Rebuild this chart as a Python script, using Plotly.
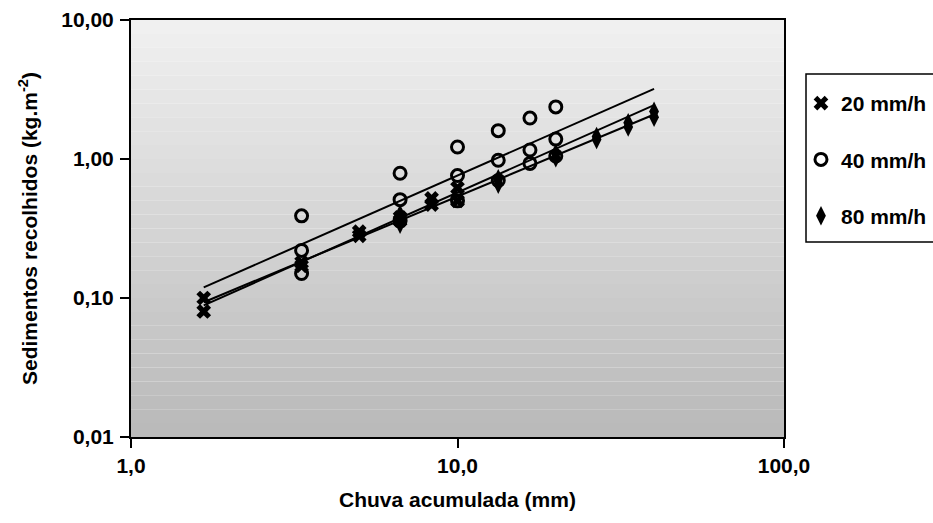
import numpy as np
import plotly.graph_objects as go

# Accumulated rainfall (mm) and collected sediment (kg.m-2) per rain intensity
x_20 = [1.67, 1.67, 3.33, 3.33, 5.0, 5.0, 6.67, 6.67, 8.33, 8.33, 10.0, 10.0]
y_20 = [0.10, 0.08, 0.18, 0.17, 0.30, 0.28, 0.38, 0.36, 0.52, 0.47, 0.62, 0.50]

x_40 = [3.33, 3.33, 3.33, 6.67, 6.67, 6.67, 10.0, 10.0, 10.0,
        13.33, 13.33, 13.33, 16.67, 16.67, 16.67, 20.0, 20.0, 20.0]
y_40 = [0.39, 0.22, 0.15, 0.79, 0.51, 0.36, 1.22, 0.76, 0.50,
        1.60, 0.98, 0.70, 1.97, 1.16, 0.93, 2.37, 1.39, 1.05]

x_80 = [6.67, 6.67, 13.33, 13.33, 20.0, 20.0, 26.67, 26.67, 33.33, 33.33, 40.0, 40.0]
y_80 = [0.40, 0.34, 0.72, 0.66, 1.10, 1.02, 1.45, 1.38, 1.82, 1.70, 2.20, 2.00]

series_names = ["20 mm/h", "40 mm/h", "80 mm/h"]
trend_span = [1.67, 40.0]          # rainfall range covered by the power trendlines

x_tickvals = [1, 10, 100]
x_ticktext = ["1,0", "10,0", "100,0"]
y_tickvals = [0.01, 0.1, 1, 10]
y_ticktext = ["0,01", "0,10", "1,00", "10,00"]

FONT = "Liberation Sans, Arial, sans-serif"
TXT = dict(family=FONT, size=21, color="black", weight="bold")

fig = go.Figure()

# grey shaded plot background, darker towards the bottom
n_bands = 30
top_rgb = np.array([240, 240, 240])
bot_rgb = np.array([186, 186, 186])
for i in range(n_bands):
    t = i / (n_bands - 1)
    c = (top_rgb + (bot_rgb - top_rgb) * t).astype(int)
    fig.add_shape(type="rect", xref="x domain", yref="y domain",
                  x0=0, x1=1, y0=1 - (i + 1) / n_bands, y1=1 - i / n_bands,
                  fillcolor=f"rgb({c[0]},{c[1]},{c[2]})", line_width=0, layer="below")

# legend frame (open on the right, running off the page)
fig.add_shape(type="rect", xref="paper", yref="paper",
              x0=1.0337, x1=1.4, y0=0.4676, y1=0.8705,
              fillcolor="white", line=dict(color="black", width=1.5), layer="above")

# power-law trendlines fitted to each series
span = np.geomspace(trend_span[0], trend_span[1], 50)
for xs, ys in [(x_20, y_20), (x_40, y_40), (x_80, y_80)]:
    b, a = np.polyfit(np.log10(xs), np.log10(ys), 1)
    fig.add_trace(go.Scatter(x=span, y=10 ** (a + b * np.log10(span)), mode="lines",
                             line=dict(color="black", width=2), showlegend=False,
                             hoverinfo="skip"))

markers = [
    dict(symbol="x", size=13, color="black", line=dict(width=0)),
    dict(symbol="circle-open", size=12, color="black", line=dict(width=3, color="black")),
    dict(symbol="diamond-tall", size=14, color="black", line=dict(width=0)),
]
for name, xs, ys, mk, grp in zip(series_names, [x_20, x_40, x_80], [y_20, y_40, y_80],
                                 markers, ["a", "b", "c"]):
    fig.add_trace(go.Scatter(x=xs, y=ys, mode="markers", name=name, marker=mk,
                             legendgroup=grp))

axis_common = dict(showline=True, linecolor="black", linewidth=2, mirror=True,
                   ticks="outside", ticklen=9, tickwidth=1.5, tickcolor="black",
                   showgrid=False, zeroline=False, tickfont=TXT)

fig.update_xaxes(type="log", range=[0, 2], tickvals=x_tickvals, ticktext=x_ticktext,
                 title=dict(text="Chuva acumulada (mm)", standoff=16, font=TXT),
                 **axis_common)
fig.update_yaxes(type="log", range=[-2, 1], tickvals=y_tickvals, ticktext=y_ticktext,
                 ticklabelstandoff=2,
                 title=dict(text="Sedimentos recolhidos (kg.m<sup>-2</sup>)", standoff=18,
                            font=TXT),
                 **axis_common)

fig.update_layout(
    width=933, height=523,
    margin=dict(l=131, r=149, t=20, b=86, autoexpand=False),
    paper_bgcolor="white", plot_bgcolor="white",
    legend=dict(x=1.026, xanchor="left", y=0.849, yanchor="top",
                bgcolor="rgba(0,0,0,0)", borderwidth=0,
                font=TXT, tracegroupgap=26, itemwidth=30),
)

fig.write_html("out.html")
